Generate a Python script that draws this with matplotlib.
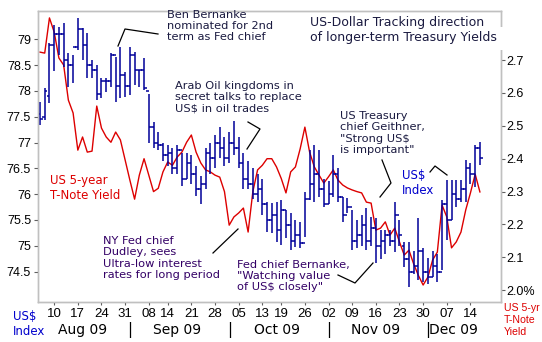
import numpy as np
import pandas as pd
import matplotlib
matplotlib.use("Agg")
import matplotlib.pyplot as plt
from matplotlib.patches import Rectangle

# trading days, Aug 5 - Dec 16 2009 (Labor Day and Columbus Day skipped)
dates = pd.bdate_range("2009-08-05", "2009-12-16")
dates = dates[~dates.isin(pd.to_datetime(["2009-09-07", "2009-10-12"]))]

# US dollar index, daily OHLC
usd_open = [77.55, 77.50, 77.90, 78.90, 79.10, 79.10, 78.60, 78.50, 78.85, 79.20,
            78.90, 78.50, 78.40, 77.95, 78.20, 78.20, 78.70, 78.10, 78.30, 78.10,
            78.70, 78.40, 78.40, 78.00, 77.30, 77.00, 76.95, 76.75, 76.80, 76.50,
            76.85, 76.30, 76.60, 76.40, 76.10, 76.20, 76.80, 76.70, 77.00, 76.90,
            76.70, 77.00, 76.90, 76.60, 76.30, 76.20, 76.00, 76.10, 75.80, 75.50,
            75.60, 75.30, 75.70, 75.40, 75.10, 75.20, 75.05, 75.90, 76.20, 76.40,
            76.10, 75.80, 76.00, 76.40, 75.95, 75.60, 75.75, 75.10, 75.20, 75.40,
            75.10, 75.35, 75.00, 75.10, 75.20, 75.10, 75.60, 75.00, 74.75, 74.50,
            74.60, 74.90, 74.50, 74.40, 74.60, 74.50, 75.80, 75.50, 76.00, 75.90,
            76.10, 76.50, 76.40, 76.90]
usd_high = [77.79, 78.05, 78.93, 79.28, 79.24, 79.32, 78.74, 78.70, 79.41, 79.22,
            79.12, 78.60, 78.50, 78.25, 78.25, 78.74, 78.66, 78.85, 78.37, 78.85,
            78.76, 78.41, 78.64, 77.94, 77.40, 77.20, 77.00, 76.95, 76.90, 76.95,
            76.80, 76.80, 76.75, 76.55, 76.35, 76.90, 77.00, 77.15, 77.30, 77.10,
            77.20, 77.42, 77.10, 76.80, 76.65, 76.50, 76.40, 76.30, 75.85, 75.83,
            75.85, 75.89, 75.69, 75.64, 75.50, 75.46, 76.04, 76.86, 76.95, 76.85,
            76.30, 76.25, 76.76, 76.50, 75.95, 75.93, 75.69, 75.50, 75.60, 75.73,
            75.55, 75.54, 75.30, 75.30, 75.30, 75.85, 75.50, 75.08, 75.08, 74.90,
            75.54, 74.95, 74.77, 74.90, 74.85, 75.89, 76.28, 76.28, 76.28, 76.28,
            76.67, 76.60, 76.96, 77.01]
usd_low = [77.34, 77.44, 77.77, 78.38, 78.70, 78.47, 78.08, 78.16, 78.80, 78.60,
           78.25, 78.25, 77.83, 77.87, 77.98, 78.08, 77.79, 77.87, 77.89, 77.92,
           78.12, 78.08, 78.02, 77.00, 76.90, 76.85, 76.65, 76.55, 76.40, 76.40,
           76.15, 76.30, 76.20, 75.97, 75.80, 76.10, 76.40, 76.50, 76.70, 76.55,
           76.60, 76.75, 76.50, 76.10, 76.10, 75.90, 75.85, 75.60, 75.27, 75.25,
           75.08, 75.02, 75.15, 74.92, 74.98, 74.96, 75.17, 75.89, 75.85, 75.95,
           75.75, 75.80, 75.95, 75.85, 75.46, 75.64, 74.92, 74.95, 75.00, 74.92,
           75.00, 74.67, 74.75, 74.85, 75.00, 74.88, 75.00, 74.59, 74.20, 74.45,
           74.34, 74.30, 74.25, 74.40, 74.30, 74.53, 75.11, 75.50, 75.75, 75.85,
           75.85, 76.20, 76.14, 76.57]
usd_close = [77.45, 78.00, 78.90, 79.10, 79.10, 78.60, 78.50, 78.85, 79.20, 78.90,
             78.50, 78.40, 77.95, 78.20, 78.20, 78.70, 78.10, 78.30, 78.10, 78.70,
             78.40, 78.40, 78.05, 77.30, 77.00, 76.95, 76.75, 76.80, 76.50, 76.85,
             76.30, 76.60, 76.40, 76.10, 76.20, 76.80, 76.70, 77.00, 76.90, 76.70,
             77.00, 76.90, 76.60, 76.30, 76.20, 76.00, 76.10, 75.80, 75.50, 75.60,
             75.30, 75.70, 75.40, 75.10, 75.20, 75.05, 75.90, 76.20, 76.40, 76.10,
             75.80, 76.00, 76.40, 75.95, 75.60, 75.75, 75.10, 75.20, 75.40, 75.10,
             75.35, 75.00, 75.10, 75.20, 75.10, 75.60, 75.20, 74.75, 74.50, 74.60,
             74.90, 74.50, 74.40, 74.60, 74.50, 75.80, 75.50, 76.00, 75.90, 76.10,
             76.50, 76.40, 76.90, 76.70]

# US 5-year T-note yield, %
yield_5yr = [2.724, 2.721, 2.828, 2.785, 2.706, 2.685, 2.578, 2.539, 2.426, 2.466,
             2.420, 2.423, 2.560, 2.493, 2.466, 2.450, 2.481, 2.457, 2.396, 2.335,
             2.277, 2.350, 2.400, 2.350, 2.300, 2.310, 2.360, 2.390, 2.380, 2.405,
             2.420, 2.450, 2.472, 2.420, 2.387, 2.366, 2.360, 2.350, 2.344, 2.300,
             2.198, 2.223, 2.235, 2.250, 2.177, 2.300, 2.366, 2.380, 2.400, 2.400,
             2.375, 2.340, 2.296, 2.360, 2.375, 2.430, 2.496, 2.420, 2.375, 2.350,
             2.326, 2.345, 2.366, 2.335, 2.320, 2.311, 2.305, 2.300, 2.296, 2.268,
             2.265, 2.183, 2.189, 2.208, 2.168, 2.189, 2.147, 2.107, 2.122, 2.080,
             2.045, 2.016, 2.040, 2.092, 2.116, 2.259, 2.223, 2.129, 2.147, 2.177,
             2.244, 2.296, 2.353, 2.299]

left_ticks = [74.5, 75, 75.5, 76, 76.5, 77, 77.5, 78, 78.5, 79]
right_ticks = [2.0, 2.1, 2.2, 2.3, 2.4, 2.5, 2.6, 2.7]
right_labels = ["2.0%", "2.1", "2.2", "2.3", "2.4", "2.5", "2.6", "2.7"]

BAR = "#000099"
RED = "#dd0000"
GRID = "#c0c0c0"
NOTE = "#1a1a40"

W, H = 542, 342
fig = plt.figure(figsize=(W / 100, H / 100), dpi=100)
fig.patch.set_facecolor("white")

def px(x, y):
    # figure fraction from pixel position
    return x / W, 1 - y / H

ax = fig.add_axes([38 / W, 40 / H, 463 / W, 291 / H])
ax2 = ax.twinx()
ax.set_zorder(ax2.get_zorder() + 1)
ax.patch.set_visible(False)

x = np.arange(len(dates))

# OHLC bars
ax.vlines(x, usd_low, usd_high, color=BAR, lw=1.1)
ax.hlines(usd_open, x - 0.55, x, color=BAR, lw=1.1)
ax.hlines(usd_close, x, x + 0.55, color=BAR, lw=1.1)

ax2.plot(x, yield_5yr, color=RED, lw=1.0)

ax.set_xlim(-0.42, 97.46)
ax.set_ylim(73.91, 79.55)
ax2.set_ylim(1.9644, 2.849)

for a in (ax, ax2):
    for s in a.spines.values():
        s.set_color(GRID)
        s.set_linewidth(1.0)

ax.set_yticks(left_ticks)
ax.set_yticklabels([f"{v:g}" for v in left_ticks], fontsize=9,
                   family="Liberation Sans")
ax.tick_params(axis="y", length=3, color="#606060", pad=2)
ax2.set_yticks(right_ticks)
ax2.set_yticklabels(right_labels, fontsize=9, family="Liberation Sans")
ax2.tick_params(axis="y", length=3, color="#606060", pad=1)

# weekly ticks: first trading day of each week (skip opening partial week)
week = dates.isocalendar().week.values
starts = [i for i in range(1, len(dates)) if week[i] != week[i - 1]]
ax.set_xticks(starts)
ax.set_xticklabels([dates[i].strftime("%d") for i in starts], fontsize=9.5,
                   family="Liberation Sans")
ax.tick_params(axis="x", length=2, color="#606060", pad=2)

# month names and separators
months = dates.month.values
for m in np.unique(months):
    idx = np.where(months == m)[0]
    mid = (idx[0] + idx[-1]) / 2
    label = dates[idx[0]].strftime("%b %y")
    ax.text(mid, -0.095, label, transform=ax.get_xaxis_transform(),
            ha="center", va="center", fontsize=10, family="DejaVu Sans")
    if idx[0] > 0:
        ax.text(idx[0], -0.095, "|", transform=ax.get_xaxis_transform(),
                ha="center", va="center", fontsize=11, family="DejaVu Sans")

# axis captions
fig.text(*px(13, 324), "US$\nIndex", color="#0000cc", fontsize=8.5,
         va="center", ha="left", linespacing=1.25)
fig.text(*px(504, 320), "US 5-yr\nT-Note\nYield", color=RED, fontsize=7.6,
         family="Liberation Sans", va="center", ha="left", linespacing=1.2)

# title, its second line breaks the right frame
x0, y0 = px(488, 50)
x1, y1 = px(504, 27)
fig.add_artist(Rectangle((x0, y0), x1 - x0, y1 - y0, transform=fig.transFigure,
                         facecolor="white", edgecolor="none", zorder=2))
fig.text(*px(310, 30), "US-Dollar Tracking direction\nof longer-term Treasury Yields",
         fontsize=9, color=NOTE, va="center", ha="left", linespacing=1.15,
         zorder=3)

# event notes
fig.text(*px(167, 26), "Ben Bernanke\nnominated for 2nd\nterm as Fed chief",
         fontsize=8.2, color=NOTE, va="center", ha="left", linespacing=1.15)
fig.text(*px(175, 97), "Arab Oil kingdoms in\nsecret talks to replace\nUS$ in oil trades",
         fontsize=8.2, color=NOTE, va="center", ha="left", linespacing=1.15)
fig.text(*px(340, 133), "US Treasury\nchief Geithner,\n\"Strong US$\nis important\"",
         fontsize=8.2, color=NOTE, va="center", ha="left", linespacing=1.15)
fig.text(*px(103, 258), "NY Fed chief\nDudley, sees\nUltra-low interest\nrates for long period",
         fontsize=8.2, color="#330066", va="center", ha="left", linespacing=1.15)
fig.text(*px(237, 276), "Fed chief Bernanke,\n\"Watching value\nof US$ closely\"",
         fontsize=8.2, color="#330066", va="center", ha="left", linespacing=1.15)
fig.text(*px(50, 188), "US 5-year\nT-Note Yield", fontsize=8.5, color=RED,
         va="center", ha="left", linespacing=1.2)
fig.text(*px(402, 183), "US$\nIndex", fontsize=8.5, color="#0000cc",
         va="center", ha="left", linespacing=1.2)

# leader lines
def leader(points):
    xs, ys = zip(*[px(a, b) for a, b in points])
    fig.add_artist(plt.Line2D(xs, ys, color="black", lw=0.9))

leader([(118, 46), (125, 29), (158, 34)])
leader([(248, 122), (260, 129), (247, 149)])
leader([(382, 160), (391, 183), (380, 197)])
leader([(430, 172), (435, 166), (447, 175)])
leader([(213, 253), (238, 229)])
leader([(338, 275), (355, 283), (373, 263)])

fig.savefig("out.png", dpi=100)
